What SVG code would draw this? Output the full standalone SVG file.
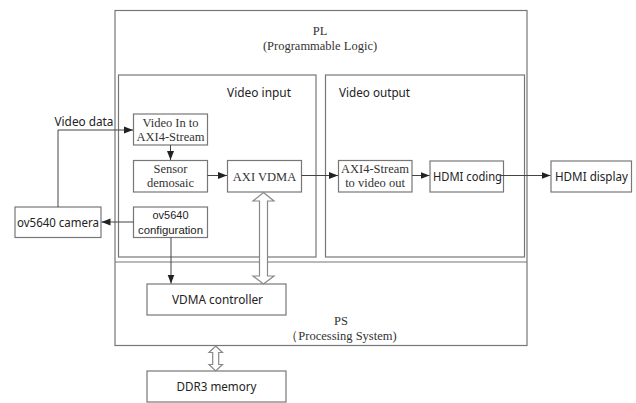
<svg xmlns="http://www.w3.org/2000/svg" width="636" height="403" viewBox="0 0 636 403">
<defs>
<style>
.box{fill:#fff;stroke:#777;stroke-width:1.2}
.frame{fill:none;stroke:#777;stroke-width:1.2}
.ln{fill:none;stroke:#444;stroke-width:1}
.dbl{fill:#fff;stroke:#888;stroke-width:1.2}
.serif{font-family:"Liberation Serif","Times New Roman",serif;font-size:12.5px;fill:#333;text-anchor:middle}
.sans{font-family:"Noto Sans","Liberation Sans",Arial,sans-serif;font-size:13px;fill:#222;text-anchor:middle}
.sans2{font-family:"Liberation Sans",Arial,sans-serif;font-size:11.5px;fill:#222;text-anchor:middle}
</style>
<marker id="ah" markerWidth="10" markerHeight="8" refX="9" refY="4" orient="auto" markerUnits="userSpaceOnUse">
<path d="M0,0.5 L9,4 L0,7.5 Z" fill="#222"/>
</marker>
</defs>
<rect width="636" height="403" fill="#fff"/>

<g id="pl-ps">
<rect class="frame" x="115" y="10.5" width="412" height="335"/>
<line class="frame" x1="115" y1="262" x2="527" y2="262"/>
<text class="serif" x="320" y="35">PL</text>
<text class="serif" x="320" y="50">(Programmable Logic)</text>
<text class="serif" x="341" y="325">PS</text>
<text class="serif" x="341" y="340">（Processing System)</text>
</g>

<g id="video-input">
<rect class="frame" x="118.5" y="75" width="197.5" height="182"/>
<text class="sans" x="259" y="97" textLength="64" lengthAdjust="spacingAndGlyphs">Video input</text>
</g>

<g id="video-output">
<rect class="frame" x="325.5" y="75" width="199" height="182"/>
<text class="sans" x="374.5" y="97" textLength="71" lengthAdjust="spacingAndGlyphs">Video output</text>
</g>

<g id="video-in">
<rect class="box" x="133.5" y="114" width="74" height="31"/>
<text class="serif" x="170.5" y="127">Video In to</text>
<text class="serif" x="170.5" y="141">AXI4-Stream</text>
</g>

<g id="sensor-demosaic">
<rect class="box" x="133.5" y="160.5" width="74" height="31.5"/>
<text class="serif" x="170.5" y="173">Sensor</text>
<text class="serif" x="170.5" y="187">demosaic</text>
</g>

<g id="axi-vdma">
<rect class="box" x="227.5" y="160.5" width="74" height="31.5"/>
<text class="serif" x="264.5" y="181" font-size="13.5">AXI VDMA</text>
</g>

<g id="ov5640-config">
<rect class="box" x="133.5" y="207" width="74" height="30.5"/>
<text class="sans2" x="170.5" y="219" textLength="36" lengthAdjust="spacingAndGlyphs">ov5640</text>
<text class="sans2" x="170.5" y="233.5" textLength="65" lengthAdjust="spacingAndGlyphs">configuration</text>
</g>

<g id="ov5640-camera">
<rect class="box" x="15" y="207" width="86" height="30.5"/>
<text class="sans" x="58" y="226.5" textLength="82" lengthAdjust="spacingAndGlyphs">ov5640 camera</text>
</g>

<g id="vdma-controller">
<rect class="box" x="147" y="284" width="139" height="31"/>
<text class="sans" x="217.5" y="304" font-size="13.5" textLength="91" lengthAdjust="spacingAndGlyphs">VDMA controller</text>
</g>

<g id="ddr3-memory">
<rect class="box" x="147" y="371" width="139" height="31"/>
<text class="sans" x="216.5" y="391" font-size="13.5" textLength="80" lengthAdjust="spacingAndGlyphs">DDR3 memory</text>
</g>

<g id="axi4-stream-out">
<rect class="box" x="338.5" y="160.5" width="73.5" height="31.5"/>
<text class="serif" x="375" y="173">AXI4-Stream</text>
<text class="serif" x="375" y="187">to video out</text>
</g>

<g id="hdmi-coding">
<rect class="box" x="430" y="161" width="73.5" height="31"/>
<text class="sans" x="467.5" y="181" font-size="13.5" textLength="69" lengthAdjust="spacingAndGlyphs">HDMI coding</text>
</g>

<g id="hdmi-display">
<rect class="box" x="551" y="161" width="80.5" height="31"/>
<text class="sans" x="591.5" y="181" font-size="13.5" textLength="73" lengthAdjust="spacingAndGlyphs">HDMI display</text>
</g>

<g id="connectors">
<polyline class="ln" points="58,207 58,130 133,130" marker-end="url(#ah)"/>
<text class="sans" x="84" y="126" font-size="13.5" textLength="59" lengthAdjust="spacingAndGlyphs">Video data</text>
<line class="ln" x1="170.5" y1="145" x2="170.5" y2="160" marker-end="url(#ah)"/>
<line class="ln" x1="207.5" y1="175.5" x2="227" y2="175.5" marker-end="url(#ah)"/>
<line class="ln" x1="301.5" y1="175.5" x2="338" y2="175.5" marker-end="url(#ah)"/>
<line class="ln" x1="412" y1="175.5" x2="429.5" y2="175.5" marker-end="url(#ah)"/>
<line class="ln" x1="500" y1="175.5" x2="550.5" y2="175.5" marker-end="url(#ah)"/>
<line class="ln" x1="133.5" y1="222" x2="101.5" y2="222" marker-end="url(#ah)"/>
<line class="ln" x1="171" y1="237.5" x2="171" y2="283.5" marker-end="url(#ah)"/>
<path class="dbl" d="M263.5,192.5 L274,201 L267.5,201 L267.5,276 L274,276 L263.5,284 L253,276 L259.5,276 L259.5,201 L253,201 Z"/>
<path class="dbl" d="M215.7,346 L222.5,352.5 L218.7,352.5 L218.7,364.5 L222.5,364.5 L215.7,371 L209,364.5 L212.7,364.5 L212.7,352.5 L209,352.5 Z"/>
</g>
</svg>
